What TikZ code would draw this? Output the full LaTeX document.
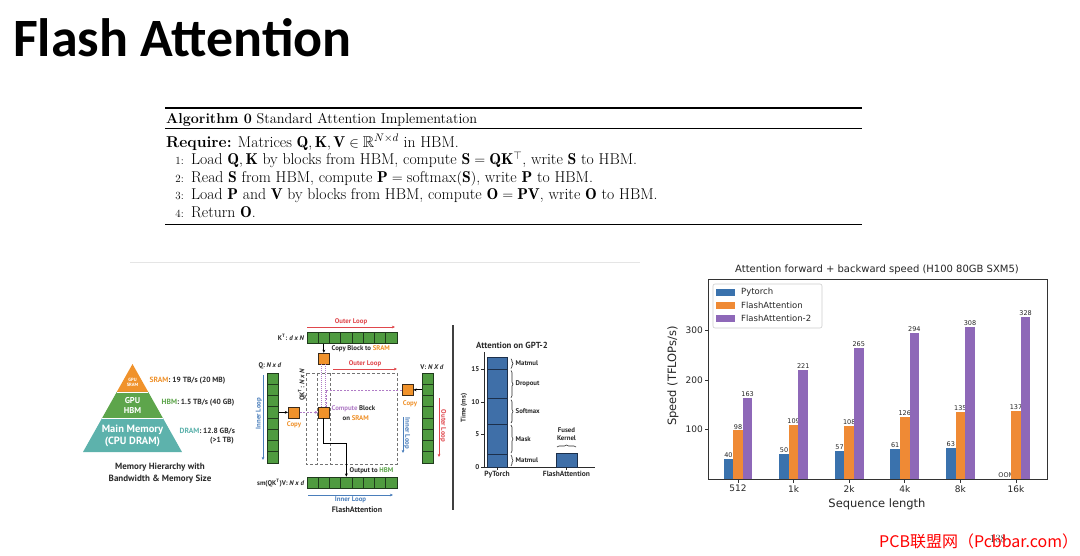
\documentclass[tikz,border=0pt]{standalone}
\usepackage{amsmath}
\usepackage{amssymb}
\usepackage{fontspec}
\newfontfamily\titlefont{Carlito}
\newfontfamily\figfont{PT Sans}
\newfontfamily\plotfont{DejaVu Sans}
\newfontfamily\cjkfont{Noto Sans CJK SC}
\usetikzlibrary{arrows.meta,positioning,calc,decorations.pathreplacing}
\definecolor{sramorange}{HTML}{F0922B}
\definecolor{hbmgreen}{HTML}{5DA54B}
\definecolor{dramteal}{HTML}{5DB2AC}
\definecolor{cellgreen}{HTML}{4F9B40}
\definecolor{celledge}{HTML}{1F3B1C}
\definecolor{blockedge}{HTML}{3A2A1A}
\definecolor{loopred}{HTML}{E0474C}
\definecolor{loopblue}{HTML}{4A7EBB}
\definecolor{computeviolet}{HTML}{B07CC6}
\definecolor{figtext}{HTML}{2B2B2B}
\definecolor{gptblue}{HTML}{3F6FA8}
\definecolor{gptedge}{HTML}{1C2F4A}
\definecolor{ptblue}{HTML}{3A72AD}
\definecolor{faorange}{HTML}{EF8A35}
\definecolor{fatwopurple}{HTML}{8E68B8}
\definecolor{plottext}{HTML}{262626}

\begin{document}
\begin{tikzpicture}[x=1pt,y=-1pt,>={Stealth[length=3.2pt,width=2.8pt]},
  alg/.style={anchor=base west,inner sep=0pt,font=\fontsize{15.7}{18}\selectfont},
  algnum/.style={anchor=base east,inner sep=0pt,font=\fontsize{11}{13}\selectfont},
  figlabel/.style={inner sep=0.5pt,text=figtext,font=\figfont\bfseries\fontsize{6.8}{8}\selectfont},
  pyrlabel/.style={align=center,inner sep=0pt,text=white},
  cell/.style={draw=celledge,fill=cellgreen,line width=0.6pt,minimum size=11.25pt,inner sep=0pt},
  block/.style={draw=blockedge,fill=sramorange,line width=0.6pt,minimum size=11pt,inner sep=0pt},
  outerloop/.style={->,draw=loopred,line width=0.8pt},
  innerloop/.style={->,draw=loopblue,line width=0.8pt},
  loopbox/.style={draw=black!55,line width=0.7pt,dash pattern=on 3pt off 2pt},
  computedash/.style={draw=computeviolet,line width=0.7pt,dash pattern=on 2pt off 1.5pt},
  gptbar/.style={fill=gptblue,draw=gptedge,line width=0.8pt},
  segbrace/.style={decorate,decoration={brace,amplitude=2pt},draw=figtext,line width=0.6pt},
  plotlabel/.style={inner sep=1pt,text=plottext,font=\plotfont\fontsize{9}{11}\selectfont},
  vallabel/.style={anchor=south,inner sep=1.2pt,text=plottext,font=\plotfont\fontsize{6.5}{8}\selectfont},
  spine/.style={draw=black!80,line width=0.7pt}]

  \fill[white] (0,0) rectangle (1080,555);
  \useasboundingbox (0,0) rectangle (1080,555);

  \node[anchor=base west,inner sep=0pt,font=\titlefont\bfseries\fontsize{54}{60}\selectfont] (title) at (13,56) {Flash Attention};

  % algorithm block
  \draw[line width=1.1pt] (165,108) -- (862,108);
  \node[alg,font=\fontsize{14.3}{17}\selectfont] (algcap) at (166,123) {\textbf{Algorithm 0} Standard Attention Implementation};
  \draw[line width=0.5pt] (165,128.5) -- (862,128.5);
  \node[alg] (algreq) at (166,147) {\textbf{Require:} Matrices $\mathbf{Q},\mathbf{K},\mathbf{V}\in\mathbb{R}^{N\times d}$ in HBM.};
  \node[algnum] (num1) at (184,164.5) {1:};
  \node[alg] (line1) at (191,164.5) {Load $\mathbf{Q},\mathbf{K}$ by blocks from HBM, compute $\mathbf{S}=\mathbf{Q}\mathbf{K}^{\top}$, write $\mathbf{S}$ to HBM.};
  \node[algnum] (num2) at (184,182) {2:};
  \node[alg] (line2) at (191,182) {Read $\mathbf{S}$ from HBM, compute $\mathbf{P}=\mathrm{softmax}(\mathbf{S})$, write $\mathbf{P}$ to HBM.};
  \node[algnum] (num3) at (184,199.5) {3:};
  \node[alg] (line3) at (191,199.5) {Load $\mathbf{P}$ and $\mathbf{V}$ by blocks from HBM, compute $\mathbf{O}=\mathbf{P}\mathbf{V}$, write $\mathbf{O}$ to HBM.};
  \node[algnum] (num4) at (184,217) {4:};
  \node[alg] (line4) at (191,217) {Return $\mathbf{O}$.};
  \draw[line width=0.5pt] (165,224) -- (862,224);

  \draw[black!10,line width=0.6pt] (130,262) -- (640,262);

  % memory pyramid
  \coordinate (apex) at (132.5,364);
  \coordinate (baseL) at (83,452);
  \coordinate (baseR) at (182,452);
  \coordinate (sramL) at ($(apex)!0.318!(baseL)$);
  \coordinate (sramR) at ($(apex)!0.318!(baseR)$);
  \coordinate (hbmL) at ($(apex)!0.614!(baseL)$);
  \coordinate (hbmR) at ($(apex)!0.614!(baseR)$);
  \fill[sramorange] (apex) -- (sramL) -- (sramR) -- cycle;
  \fill[hbmgreen] (sramL) -- (hbmL) -- (hbmR) -- (sramR) -- cycle;
  \fill[dramteal] (hbmL) -- (baseL) -- (baseR) -- (hbmR) -- cycle;
  \draw[white,line width=0.8pt] (sramL) -- (sramR) (hbmL) -- (hbmR);
  \node[pyrlabel,font=\figfont\bfseries\fontsize{4.6}{5}\selectfont] (gpusram) at (132.5,382) {GPU\\SRAM};
  \node[pyrlabel,font=\figfont\bfseries\fontsize{8.5}{10}\selectfont] (gpuhbm) at (132.5,405.5) {GPU\\HBM};
  \node[pyrlabel,font=\figfont\bfseries\fontsize{10.5}{12}\selectfont] (mainmem) at (132.5,435.5) {Main Memory\\(CPU DRAM)};
  \node[figlabel,anchor=west,font=\figfont\bfseries\fontsize{7.5}{9}\selectfont] (sramlbl) at (149,381) {\textcolor{sramorange}{SRAM}: 19 TB/s (20 MB)};
  \node[figlabel,anchor=west,font=\figfont\bfseries\fontsize{7.5}{9}\selectfont] (hbmlbl) at (161,403) {\textcolor{hbmgreen}{HBM}: 1.5 TB/s (40 GB)};
  \node[figlabel,anchor=west,font=\figfont\bfseries\fontsize{7.5}{9}\selectfont] (dramlbl) at (179,431) {\textcolor{dramteal}{DRAM}: 12.8 GB/s};
  \node[figlabel,font=\figfont\bfseries\fontsize{7.5}{9}\selectfont] (dramsize) at (222,441) {(>1 TB)};
  \node[figlabel,align=center,font=\figfont\bfseries\fontsize{9}{11.7}\selectfont] (memcap) at (160,473) {Memory Hierarchy with\\Bandwidth \& Memory Size};

  % flash attention tiling
  \foreach \i in {0,...,7}{
    \node[cell] (kt\i) at ({312.6+11.25*\i},337.6) {};
    \node[cell] (q\i) at (272.8,{378.6+11.25*\i}) {};
    \node[cell] (v\i) at (427.6,{378.6+11.25*\i}) {};
    \node[cell] (out\i) at ({312.6+11.25*\i},482.6) {};
  }
  \node[figlabel,anchor=east] (ktlbl) at (305,337) {K\textsuperscript{T}: \textit{d x N}};
  \node[figlabel] (qlbl) at (270,366) {Q: \textit{N x d}};
  \node[figlabel] (vlbl) at (432,367) {V: \textit{N X d}};
  \node[figlabel,anchor=east] (outlbl) at (305,483) {sm(QK\textsuperscript{T})V: \textit{N x d}};
  \node[figlabel,rotate=90] (qktlbl) at (302,385) {QK\textsuperscript{T}: \textit{N x N}};

  \draw[loopbox] (306,373) rectangle (397,464);
  \draw[loopbox] (317.6,373) -- (317.6,464) (330.2,373) -- (330.2,464);

  \node[block] (kcopy) at ($(kt1)+(0,21)$) {};
  \node[block] (qcopy) at ($(q3)+(21,0)$) {};
  \node[block] (compute) at (kt1 |- q3) {};
  \node[block] (vcopy) at ($(v1)+(-20,0)$) {};

  \draw[->,line width=0.8pt] (kt1) -- (kcopy);
  \draw[->,line width=0.8pt] (q3) -- (qcopy);
  \draw[->,line width=0.8pt] (v1) -- (vcopy);
  \draw[computedash,->] (qcopy) -- (compute);
  \draw[computedash] (vcopy.west) -| ([xshift=2.5pt]compute.north);
  \draw[computedash,dash pattern=on 1pt off 1pt] ([xshift=-2.5pt]kcopy.south) -- ([xshift=-2.5pt]compute.north);
  \draw[computedash,dash pattern=on 1pt off 1pt] ([xshift=1pt]kcopy.south) -- ([xshift=1pt]compute.north);
  \draw[->,line width=0.9pt] (compute.south) -- ++(0,25) -| (out3.north);

  \node[figlabel,anchor=west] (copyblk) at (331,349) {Copy Block to \textcolor{sramorange}{SRAM}};
  \node[figlabel,text=sramorange] (qcopylbl) at (294,425) {Copy};
  \node[figlabel,text=sramorange] (vcopylbl) at (410,404) {Copy};
  \node[figlabel,anchor=west] (complbl) at (331,409) {\textcolor{computeviolet}{Compute} Block};
  \node[figlabel,anchor=west] (onsram) at (342,418) {on \textcolor{sramorange}{SRAM}};
  \node[figlabel,anchor=west] (outhbm) at (349,471) {Output to \textcolor{hbmgreen}{HBM}};

  \coordinate (outerA) at (307,327);
  \coordinate (outerB) at (395,327);
  \draw[outerloop] (outerA) -- node[figlabel,text=loopred,above=1pt] {Outer Loop} (outerB);
  \coordinate (outerC) at (333,369);
  \coordinate (outerD) at (397,369);
  \draw[outerloop] (outerC) -- node[figlabel,text=loopred,above=1pt] {Outer Loop} (outerD);
  \coordinate (outerE) at (439,398);
  \coordinate (outerF) at (439,457);
  \draw[outerloop] (outerE) -- node[figlabel,text=loopred,rotate=-90,above=1.5pt] {Outer Loop} (outerF);
  \coordinate (innerA) at (263,375);
  \coordinate (innerB) at (263,460);
  \draw[innerloop] (innerA) -- node[figlabel,text=loopblue,rotate=90,above=4pt] {Inner Loop} (innerB);
  \coordinate (innerC) at (403,417);
  \coordinate (innerD) at (403,453);
  \draw[innerloop] (innerC) -- node[figlabel,text=loopblue,rotate=-90,above=1.5pt] {Inner Loop} (innerD);
  \coordinate (innerE) at (308,495);
  \coordinate (innerF) at (393,495);
  \draw[innerloop] (innerE) -- node[figlabel,text=loopblue,below=0.5pt] {Inner Loop} (innerF);
  \node[figlabel,font=\figfont\bfseries\fontsize{8}{10}\selectfont] (flashcap) at (357,510) {FlashAttention};

  \draw[black!75,line width=1.2pt] (453,325) -- (453,510);

  % attention on GPT-2
  \node[figlabel,font=\figfont\bfseries\fontsize{8.8}{10}\selectfont] (gpttitle) at (512,345) {Attention on GPT-2};
  \draw[figtext,line width=0.8pt] (484,352) -- (484,467) -- (595,467);
  \foreach \t in {0,5,10,15}{
    \draw[figtext,line width=0.8pt] (484,{467-6.5*\t}) -- ++(-3,0);
    \node[figlabel,anchor=east,font=\figfont\bfseries\fontsize{7}{8}\selectfont] (gpty\t) at (480,{467-6.5*\t}) {\t};
  }
  \node[figlabel,rotate=90] (gptylbl) at (464,408) {Time (ms)};
  \foreach \a/\b/\l [count=\i] in {0/2.0/Matmul,2.0/6.6/Mask,6.6/10.5/Softmax,10.5/15/Dropout,15/16.8/Matmul}{
    \draw[gptbar] (487,{467-6.5*\a}) rectangle (507,{467-6.5*\b});
    \draw[segbrace] (511,{467-6.5*\b+1}) -- (511,{467-6.5*\a-1});
    \node[figlabel,anchor=west] (seg\i) at (515,{467-6.5*(\a+\b)/2}) {\l};
  }
  \draw[gptbar] (556,467) rectangle (577,453);
  \draw[segbrace] (557,447) -- (576,447);
  \node[figlabel,align=center] (fused) at (566.5,434) {Fused\\Kernel};
  \draw[figtext,line width=0.8pt] (497,467) -- ++(0,2.5) (566.5,467) -- ++(0,2.5);
  \node[figlabel,anchor=north,font=\figfont\bfseries\fontsize{7.5}{9}\selectfont] (gptpt) at (497,470.5) {PyTorch};
  \node[figlabel,anchor=north,font=\figfont\bfseries\fontsize{7.5}{9}\selectfont] (gptfa) at (566.5,470.5) {FlashAttention};

  % speed chart
  \node[plotlabel,font=\plotfont\fontsize{10}{12}\selectfont] (speedtitle) at (877,270) {Attention forward + backward speed (H100 80GB SXM5)};
  \foreach \v [count=\i from 0] in {40,50,57,61,63}{
    \pgfmathsetmacro\gx{738+55.6*\i-9.6}
    \fill[ptblue] (\gx-4.8,479) rectangle (\gx+4.8,{479-0.495*\v});
    \node[vallabel] (ptval\i) at (\gx,{479-0.495*\v}) {\v};
  }
  \node[vallabel] (oom) at ({738+55.6*5-9.6},479) {OOM};
  \foreach \v [count=\i from 0] in {98,109,108,126,135,137}{
    \pgfmathsetmacro\gx{738+55.6*\i}
    \fill[faorange] (\gx-4.8,479) rectangle (\gx+4.8,{479-0.495*\v});
    \node[vallabel] (faval\i) at (\gx,{479-0.495*\v}) {\v};
  }
  \foreach \v [count=\i from 0] in {163,221,265,294,308,328}{
    \pgfmathsetmacro\gx{738+55.6*\i+9.6}
    \fill[fatwopurple] (\gx-4.8,479) rectangle (\gx+4.8,{479-0.495*\v});
    \node[vallabel] (fatwoval\i) at (\gx,{479-0.495*\v}) {\v};
  }
  \draw[spine] (708,279) rectangle (1047,479);
  \foreach \t in {100,200,300}{
    \draw[spine] (708,{479-0.495*\t}) -- ++(-3.5,0);
    \node[plotlabel,anchor=east] (ytick\t) at (704,{479-0.495*\t}) {\t};
  }
  \foreach \s [count=\i from 0] in {512,1k,2k,4k,8k,16k}{
    \draw[spine] ({738+55.6*\i},479) -- ++(0,3.5);
    \node[plotlabel,anchor=north] (xtick\i) at ({738+55.6*\i},484) {\s};
  }
  \node[plotlabel,font=\plotfont\fontsize{11.5}{13}\selectfont] (xlbl) at (877,504) {Sequence length};
  \node[plotlabel,rotate=90,font=\plotfont\fontsize{11.5}{13}\selectfont] (ylbl) at (673,376) {Speed (TFLOPs/s)};
  \draw[black!20,line width=0.6pt,fill=white,rounded corners=2pt] (713,284) rectangle (822,328);
  \foreach \c/\t [count=\i from 0] in {ptblue/Pytorch,faorange/FlashAttention,fatwopurple/FlashAttention-2}{
    \fill[\c] (716,{289+13*\i}) rectangle (735,{295.5+13*\i});
    \node[plotlabel,anchor=west,font=\plotfont\fontsize{8.5}{10}\selectfont] (legend\i) at (740,{292+13*\i}) {\t};
  }

  % page footer
  \node[inner sep=0pt,text=black!85,font=\fontsize{11}{12}\selectfont] (pageno) at (998,539) {138};
  \node[anchor=base west,inner sep=0pt,text=red,font=\cjkfont\fontsize{16}{18}\selectfont] (watermark) at (879,547) {PCB联盟网（Pcbbar.com）};
\end{tikzpicture}
\end{document}
